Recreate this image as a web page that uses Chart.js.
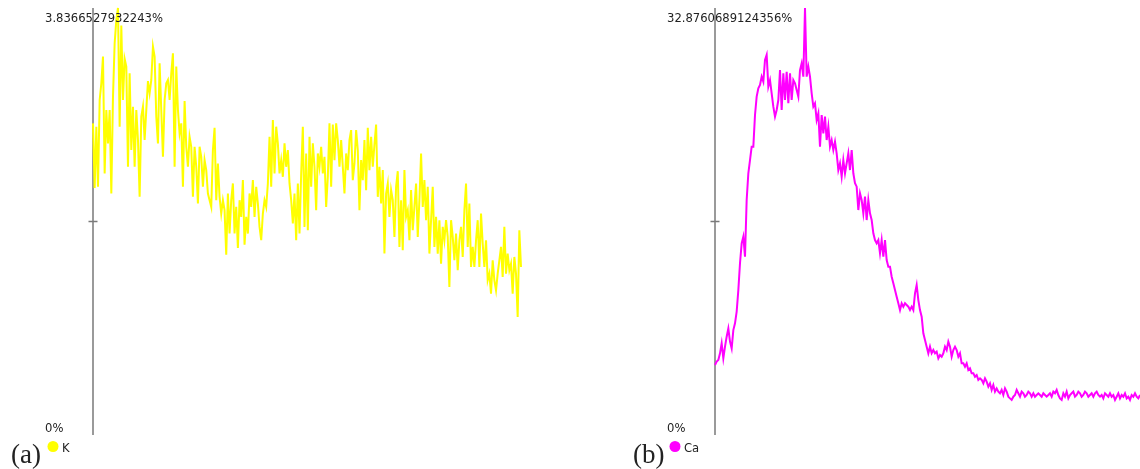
<!DOCTYPE html>
<html>
<head>
<meta charset="utf-8">
<script src="https://cdn.jsdelivr.net/npm/chart.js@4.4.0/dist/chart.umd.min.js"></script>
<style>
  html, body { margin: 0; padding: 0; background: #fff; }
  body { width: 1140px; height: 469px; position: relative; overflow: hidden; }
  .panel { position: absolute; top: 0; height: 469px; }
  #panel-a { left: 0; width: 622px; }
  #panel-b { left: 622px; width: 518px; }
</style>
</head>
<body>
<div class="panel" id="panel-a"><canvas id="chart-k" width="622" height="469"></canvas></div>
<div class="panel" id="panel-b"><canvas id="chart-ca" width="518" height="469"></canvas></div>
<script>
// (a) potassium
const kName = 'K';
const kCaption = '(a)';
const kMax = 3.8366527932243;
const kTicks = ['0%', '3.8366527932243%'];
const kValues = [
  2.80, 2.22, 2.77, 2.23, 3.01, 3.16, 3.40, 2.35, 2.92, 2.62,
  2.92, 2.17, 3.04, 3.52, 3.73, 3.8366, 2.77, 3.68, 3.01, 3.38,
  3.31, 2.41, 3.25, 2.56, 2.95, 2.41, 2.92, 2.65, 2.14, 2.86,
  2.95, 2.65, 2.92, 3.18, 3.07, 3.19, 3.49, 3.40, 2.86, 2.62,
  3.34, 2.92, 2.50, 3.01, 3.16, 3.19, 3.01, 3.25, 3.43, 2.41,
  3.31, 2.92, 2.71, 2.80, 2.23, 3.00, 2.59, 2.41, 2.68, 2.59,
  2.14, 2.59, 2.41, 2.08, 2.59, 2.50, 2.23, 2.47, 2.38, 2.17,
  2.11, 2.05, 2.56, 2.76, 2.11, 2.44, 2.14, 1.99, 2.11, 2.02,
  1.62, 2.17, 1.81, 2.11, 2.26, 1.81, 2.05, 1.68, 2.11, 1.96,
  2.29, 1.71, 1.96, 1.81, 2.17, 2.05, 2.29, 1.96, 2.23, 2.08,
  1.87, 1.75, 1.99, 2.11, 2.05, 2.26, 2.68, 2.23, 2.83, 2.35,
  2.77, 2.62, 2.35, 2.47, 2.32, 2.62, 2.41, 2.56,
  2.26, 2.11, 1.90, 2.17, 1.75, 2.26, 1.81, 2.35, 2.77, 1.87,
  2.53, 1.84, 2.68, 2.23, 2.62, 2.41, 2.02, 2.53, 2.41, 2.59,
  2.35, 2.50, 2.05, 2.32, 2.80, 2.23, 2.79, 2.47, 2.80, 2.65,
  2.41, 2.65, 2.41, 2.17, 2.53, 2.38, 2.65, 2.74, 2.29, 2.44,
  2.74, 2.56, 2.02, 2.47, 2.29, 2.65, 2.20, 2.76, 2.38, 2.68,
  2.41, 2.61, 2.79, 2.14, 2.41, 2.08, 2.38, 1.63, 2.17, 2.26,
  1.96, 2.20, 2.11, 1.78, 2.23, 2.37, 1.69, 2.11, 1.66, 2.38,
  1.96, 2.02, 1.75, 2.20, 1.84, 2.05, 2.26, 1.78, 2.11, 2.53,
  2.05, 2.29, 1.93, 2.23, 1.63, 1.93, 2.23, 1.69, 1.96, 1.63,
  1.93, 1.54, 1.87, 1.75, 1.93, 1.78, 1.33, 1.93, 1.78, 1.57,
  1.81, 1.48, 1.75, 1.87, 1.60, 2.02, 2.26, 1.69, 2.08, 1.51,
  1.69, 1.51, 1.75, 1.93, 1.51, 1.99, 1.72, 1.51, 1.75, 1.39,
  1.45, 1.27, 1.57, 1.39, 1.30, 1.45, 1.57, 1.69, 1.42, 1.87,
  1.45, 1.63, 1.48, 1.54, 1.27, 1.60, 1.45, 1.06, 1.84, 1.51
];

// (b) calcium
const caName = 'Ca';
const caCaption = '(b)';
const caMax = 32.8760689124356;
const caTicks = ['0%', '32.8760689124356%'];
const caValues = [
  5.39, 5.65, 5.77, 6.29, 7.06, 5.90, 6.80, 7.57, 8.21, 7.19,
  6.67, 8.08, 8.60, 9.50, 11.16, 13.22, 14.76, 15.27, 13.73, 18.09,
  20.15, 21.17, 22.20, 22.20, 24.64, 26.05, 26.69, 26.95, 27.59, 27.20,
  28.87, 29.26, 26.82, 27.33, 26.31, 25.28, 24.51, 25.02, 25.79, 28.10,
  25.02, 27.85, 25.79, 27.97, 25.54, 27.85, 25.79, 27.33, 27.08, 26.56,
  26.05, 28.10, 28.62, 27.59, 32.87, 27.59, 28.36, 27.59, 26.31, 25.28,
  25.54, 24.25, 24.77, 22.20, 24.64, 23.23, 24.51, 22.71, 23.74, 22.20,
  22.71, 21.94, 22.58, 21.69, 20.40, 20.92, 19.89, 21.17, 20.15, 20.92,
  21.69, 20.40, 21.94, 20.15, 19.38, 19.12, 17.32, 18.61, 18.09, 17.07,
  18.35, 16.55, 18.09, 17.07, 16.55, 15.53, 15.01, 14.76, 15.01, 13.99,
  15.01, 13.73, 15.01, 13.47, 12.96, 12.96, 12.19, 11.68, 11.16, 10.65,
  10.14, 9.62, 10.14, 9.88, 10.14, 10.01, 9.88, 9.62, 9.88, 9.62,
  10.91, 11.55, 10.39, 9.62, 9.11, 7.83,
  7.31, 6.80, 6.29, 6.80, 6.29, 6.54, 6.29, 6.42, 5.90, 6.16,
  6.03, 6.29, 6.80, 6.54, 7.19, 6.80, 6.03, 6.54, 6.80, 6.54,
  6.03, 6.29, 5.52, 5.52, 5.26, 5.52, 5.00, 5.13, 4.75, 4.75,
  4.49, 4.62, 4.24, 4.36, 4.24, 3.98, 4.36, 4.11, 3.72, 3.98,
  3.47, 3.85, 3.34, 3.59, 3.34, 3.21, 3.47, 3.08, 3.59, 3.34,
  2.95, 2.82, 2.70, 2.95, 3.08, 3.47, 3.21, 2.95, 3.34, 3.21,
  2.95, 3.08, 3.34, 3.21, 2.95, 3.21, 2.95, 3.08, 3.21, 3.08,
  2.95, 3.21, 3.08, 2.95, 3.08, 3.21, 2.95, 3.34, 3.21, 3.47,
  3.08, 2.82, 2.70, 3.21, 2.95, 3.34, 2.82, 3.08, 3.21, 3.34,
  2.95, 3.08, 3.34, 3.21, 2.95, 3.08, 3.34, 3.21, 2.95, 3.08,
  3.21, 2.95, 3.21, 3.34, 3.08, 2.95, 3.08, 2.82, 3.21, 3.08,
  2.95, 3.21, 2.95, 3.08, 2.70, 2.95, 3.21, 2.82, 3.08, 2.95,
  3.21, 2.82, 2.95, 2.70, 3.08, 2.95, 3.21, 2.95, 2.82, 3.08
];

// axis line, middle tick, end labels, legend dot and caption
const panelDecor = {
  id: 'panelDecor',
  beforeDatasetsDraw(chart, args, opts) {
    const c = chart.ctx;
    const y = chart.scales.y;
    const x0 = chart.chartArea.left;
    const mid = y.getPixelForValue(opts.max / 2);
    c.save();
    c.strokeStyle = '#7a7a7a';
    c.lineWidth = 1.5;
    c.beginPath();
    c.moveTo(x0, y.top);
    c.lineTo(x0, y.bottom);
    c.moveTo(x0 - 4.5, mid);
    c.lineTo(x0 + 4.5, mid);
    c.stroke();
    c.restore();
  },
  afterDraw(chart, args, opts) {
    const c = chart.ctx;
    const y = chart.scales.y;
    c.save();
    c.fillStyle = '#222';
    c.font = '11.6px "DejaVu Sans"';
    c.fillText(opts.ticks[1], 45, y.getPixelForValue(opts.max) + 14);
    c.fillText(opts.ticks[0], 45, y.getPixelForValue(0) - 3);

    c.fillStyle = opts.color;
    c.beginPath();
    c.arc(53, 446.5, 5.5, 0, Math.PI * 2);
    c.fill();
    c.fillStyle = '#222';
    c.fillText(opts.name, 62, 452);

    c.font = '27px "Liberation Serif"';
    c.fillText(opts.caption, 11, 463);
    c.restore();
  }
};

function makePanel(id, name, caption, color, values, max, ticks, padRight) {
  const ctx = document.getElementById(id).getContext('2d');
  return new Chart(ctx, {
    type: 'line',
    data: {
      labels: values.map((v, i) => i),
      datasets: [{
        label: name,
        data: values,
        borderColor: color,
        borderWidth: 2,
        pointRadius: 0,
        tension: 0,
        fill: false,
        clip: false
      }]
    },
    options: {
      responsive: false,
      animation: false,
      devicePixelRatio: 1,
      layout: {
        padding: { left: 93, right: padRight, top: 8, bottom: 34 }
      },
      plugins: {
        legend: { display: false },
        tooltip: { enabled: false },
        panelDecor: { name: name, caption: caption, color: color, max: max, ticks: ticks }
      },
      scales: {
        x: { display: false, offset: false },
        y: { display: false, min: 0, max: max }
      }
    },
    plugins: [panelDecor]
  });
}

makePanel('chart-k', kName, kCaption, '#ffff00', kValues, kMax, kTicks, 101);
makePanel('chart-ca', caName, caCaption, '#ff00ff', caValues, caMax, caTicks, 0);
</script>
</body>
</html>
